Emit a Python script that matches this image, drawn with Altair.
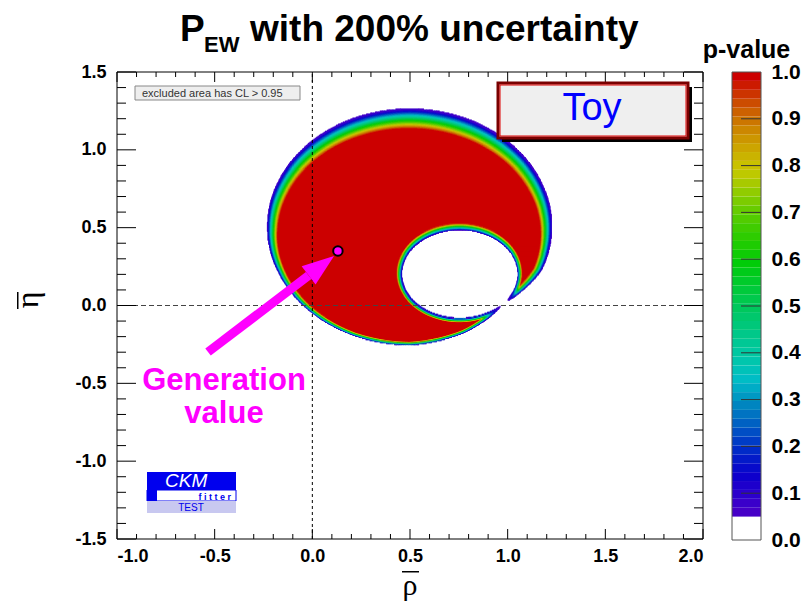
import numpy as np
import pandas as pd
import altair as alt

# ---------------- axes / labels ----------------
X_DOMAIN = [-1.0, 2.0]
Y_DOMAIN = [-1.5, 1.5]
x_label_values = [-1.0, -0.5, 0.0, 0.5, 1.0, 1.5, 2.0]
y_label_values = [-1.5, -1.0, -0.5, 0.0, 0.5, 1.0, 1.5]
cbar_label_values = [0.0, 0.1, 0.2, 0.3, 0.4, 0.5, 0.6, 0.7, 0.8, 0.9, 1.0]
cbar_tick_values = [0.1, 0.2, 0.3, 0.4, 0.5, 0.6, 0.7, 0.8, 0.9]
minor_step = 0.1
major_step = 0.5

# ---------------- p-value map geometry ----------------
angles_deg = [0, 22.5, 45, 67.5, 90, 112.5, 135, 157.5, 180, 202.5, 225, 247.5, 270, 292.5, 315, 337.5]
outer_center = [0.497, 0.502]
outer_edge_r = [0.728, 0.732, 0.743, 0.754, 0.759, 0.754, 0.743, 0.732, 0.728, 0.732, 0.743, 0.754, 0.759, 0.735, 0.690, 0.730]
outer_core_r = [0.670, 0.654, 0.643, 0.637, 0.636, 0.639, 0.646, 0.658, 0.674, 0.694, 0.714, 0.729, 0.734, 0.712, 0.665, 0.688]
hole_center = [0.754, 0.199]
hole_edge_r = [0.297, 0.295, 0.290, 0.285, 0.283, 0.285, 0.290, 0.295, 0.297, 0.295, 0.290, 0.285, 0.283, 0.285, 0.290, 0.295]
hole_core_r = [0.319, 0.3225, 0.325, 0.327, 0.328, 0.3285, 0.328, 0.326, 0.323, 0.3185, 0.314, 0.310, 0.308, 0.3085, 0.311, 0.315]
p_edge = 0.05
p_core = 0.98

gen_point = [0.131, 0.350]
arrow_tail = [-0.534, -0.299]
arrow_base = [-0.019, 0.193]
arrow_head_center = [0.046, 0.256]

# ---------------- colour palette ----------------
cl_min = 0.05
n_bands = 50
pal_p = [0.05, 0.10, 0.15, 0.20, 0.25, 0.30, 0.35, 0.40, 0.45, 0.50,
         0.55, 0.60, 0.65, 0.70, 0.75, 0.80, 0.85, 0.90, 0.95, 1.00]
pal_hex = ["#5200c4", "#3200cc", "#0a00cc", "#0028c8", "#0058c4", "#0088c0", "#00bcc8", "#00c8a8",
           "#00c888", "#00c862", "#00ca36", "#00cc08", "#26cc00", "#56cc00", "#8ecc00", "#c8c800",
           "#cca400", "#cc7c00", "#cc4400", "#cc0000"]

band_w = (1.0 - cl_min) / n_bands
band_lo = [cl_min + band_w * k for k in range(n_bands)]
band_hi = [cl_min + band_w * (k + 1) for k in range(n_bands)]
pal_rgb = np.array([[int(h[i:i + 2], 16) for i in (1, 3, 5)] for h in pal_hex], dtype=float)


def band_color(p):
    rgb = [np.interp(p, pal_p, pal_rgb[:, c]) for c in range(3)]
    return "#%02x%02x%02x" % tuple(int(round(v)) for v in rgb)


band_colors = [band_color(h) for h in band_hi]

# ---------------- build map cells ----------------
ang = np.radians(angles_deg)


def polar(X, Y, c):
    dx = X - c[0]
    dy = Y - c[1]
    return np.hypot(dx, dy), np.mod(np.arctan2(dy, dx), 2 * np.pi)


def rad(theta, rl):
    return np.interp(theta, ang, rl, period=2 * np.pi)


dxc = 0.0035
dyc = 0.0065
xs = np.arange(-0.32, 1.32, dxc) + dxc / 2
ys = np.arange(-0.32, 1.32, dyc) + dyc / 2
XX, YY = np.meshgrid(xs, ys)
ro, to = polar(XX, YY, outer_center)
Re, Rc = rad(to, outer_edge_r), rad(to, outer_core_r)
p_o = np.clip(p_edge + (p_core - p_edge) * (Re - ro) / (Re - Rc), 0, 1)
rh, th = polar(XX, YY, hole_center)
He, Hc = rad(th, hole_edge_r), rad(th, hole_core_r)
p_h = np.clip(p_edge + (p_core - p_edge) * (rh - He) / (Hc - He), 0, 1)
P = p_o * p_h
K = np.where(P >= cl_min, np.clip(((P - cl_min) / band_w).astype(int), 0, n_bands - 1), -1)

cells = []
for i, yc in enumerate(ys):
    kr = K[i]
    ch = np.flatnonzero(np.diff(kr)) + 1
    st = np.concatenate([[0], ch])
    en = np.concatenate([ch, [len(kr)]])
    for s, e in zip(st, en):
        k = kr[s]
        if k < 0:
            continue
        cells.append((round(xs[s] - dxc / 2, 5), round(xs[e - 1] + dxc / 2 + 0.0025, 5),
                      round(yc - dyc / 2, 5), round(yc + dyc * 1.5, 5), band_colors[k]))
heat = pd.DataFrame(cells, columns=["x", "x2", "y", "y2", "c"])

# ---------------- encodings ----------------
W, H = 586, 467
xsc = alt.Scale(domain=X_DOMAIN, nice=False, zero=False)
ysc = alt.Scale(domain=Y_DOMAIN, nice=False, zero=False)
hyphen_labels = "replace(format(datum.value, '.1f'), '\u2212', '-')"
x_axis = alt.Axis(values=x_label_values, labelExpr=hyphen_labels, labelFont="Liberation Sans", labelFontSize=18,
                  labelFontWeight="bold", labelColor="black", ticks=False, tickSize=0, domain=False,
                  grid=False, labelPadding=8, title=None, zindex=2)
y_axis = alt.Axis(values=y_label_values, labelExpr=hyphen_labels, labelFont="Liberation Sans", labelFontSize=18,
                  labelFontWeight="bold", labelColor="black", ticks=False, tickSize=0, domain=False,
                  grid=False, labelPadding=11, title=None, zindex=2)


def X(f):
    return alt.X(f, type="quantitative", scale=xsc, axis=x_axis)


def Y(f):
    return alt.Y(f, type="quantitative", scale=ysc, axis=y_axis)


one = pd.DataFrame({"a": [0]})


def txt(text, x, y, size, color="black", weight="normal", font="Liberation Sans", align="left",
        angle=0, style="normal"):
    return alt.Chart(one).mark_text(text=text, align=align, baseline="alphabetic", font=font,
                                    fontSize=size, fontWeight=weight, color=color, angle=angle,
                                    fontStyle=style).encode(x=alt.value(x), y=alt.value(y))


def box(x0, x1, y0, y1, fill=None, stroke=None, sw=1.0):
    kw = {}
    if fill is not None:
        kw["fill"] = fill
    else:
        kw["filled"] = False
    if stroke is not None:
        kw["stroke"] = stroke
        kw["strokeWidth"] = sw
    else:
        kw["strokeWidth"] = 0
    return alt.Chart(one).mark_rect(**kw).encode(x=alt.value(x0), x2=alt.value(x1),
                                                   y=alt.value(y0), y2=alt.value(y1))


bg = box(-117, 812 - 117, -72, 603 - 72, fill="white")

heat_layer = alt.Chart(heat).mark_rect(strokeWidth=0).encode(
    x=X("x"), x2=alt.X2("x2"), y=Y("y"), y2=alt.Y2("y2"), color=alt.Color("c:N", scale=None))

# dashed zero lines
zx = pd.DataFrame({"x": [0.0], "y0": [Y_DOMAIN[0]], "y1": [Y_DOMAIN[1]]})
zy = pd.DataFrame({"y": [0.0], "x0": [X_DOMAIN[0]], "x1": [X_DOMAIN[1]]})
dash_v = alt.Chart(zx).mark_rule(color="black", strokeWidth=1, strokeDash=[3, 3]).encode(
    x=X("x"), y=Y("y0"), y2=alt.Y2("y1"))
dash_h = alt.Chart(zy).mark_rule(color="#444444", strokeWidth=1, strokeDash=[5, 3]).encode(
    y=Y("y"), x=X("x0"), x2=alt.X2("x1"))

# inner ticks
px_x = (X_DOMAIN[1] - X_DOMAIN[0]) / W
px_y = (Y_DOMAIN[1] - Y_DOMAIN[0]) / H
xt = []
for v in np.round(np.arange(X_DOMAIN[0], X_DOMAIN[1] + 1e-9, minor_step), 3):
    L = (10 if abs(v / major_step - round(v / major_step)) < 1e-6 else 5) * px_y
    xt.append((v, v, Y_DOMAIN[0], Y_DOMAIN[0] + L))
    xt.append((v, v, Y_DOMAIN[1], Y_DOMAIN[1] - L))
for v in np.round(np.arange(Y_DOMAIN[0], Y_DOMAIN[1] + 1e-9, minor_step), 3):
    L = (19 if abs(v / major_step - round(v / major_step)) < 1e-6 else 9) * px_x
    xt.append((X_DOMAIN[0], X_DOMAIN[0] + L, v, v))
    xt.append((X_DOMAIN[1], X_DOMAIN[1] - L, v, v))
ticks = pd.DataFrame(xt, columns=["x", "x2", "y", "y2"])
tick_layer = alt.Chart(ticks).mark_rule(color="black", strokeWidth=1).encode(
    x=X("x"), x2=alt.X2("x2"), y=Y("y"), y2=alt.Y2("y2"))

frame = box(0, W, 0, H, stroke="black", sw=1)

# arrow + generation point
shaft = alt.Chart(pd.DataFrame({"x0": [arrow_tail[0]], "y0": [arrow_tail[1]],
                                "x1": [arrow_base[0]], "y1": [arrow_base[1]]})).mark_rule(
    color="#ff00ff", strokeWidth=9).encode(x=X("x0"), y=Y("y0"), x2=alt.X2("x1"), y2=alt.Y2("y1"))
head = alt.Chart(pd.DataFrame({"x": [arrow_head_center[0]], "y": [arrow_head_center[1]]})).mark_point(
    shape="M0,-1L0.72,1L-0.72,1Z", filled=True, color="#ff00ff", size=1024, angle=52.7, opacity=1,
    strokeWidth=0).encode(x=X("x"), y=Y("y"))
gen = alt.Chart(pd.DataFrame({"x": [gen_point[0]], "y": [gen_point[1]]})).mark_point(
    shape="circle", filled=True, fill="#ff00ff", stroke="black", strokeWidth=2, size=90,
    opacity=1).encode(x=X("x"), y=Y("y"))

# annotations (pixel positions relative to plot area)
title_p = txt("P", 63, -31, 37, weight="bold")
title_ew = txt("EW", 87, -20, 22, weight="bold")
title_rest = txt("with 200% uncertainty", 133, -31, 37, weight="bold")
xtitle = txt("\u03c1", 293, 523, 30, font="Liberation Serif", align="center")
xbar = box(285, 302, 499, 500.5, fill="black")
ytitle = txt("\u03b7", -79, 228, 32, font="Liberation Serif", align="center", angle=270)
ybar = box(-100, -98.5, 220, 237, fill="black")

excl_box = box(18, 183, 14, 28, fill="#eeeeee", stroke="#888888", sw=1)
excl_txt = txt("excluded area has CL > 0.95", 25, 25, 11, color="#333333")

toy_shadow = box(385, 575, 15, 70, fill="black")
toy_box = box(381, 571, 11, 66, fill="#efefef", stroke="#7a0000", sw=3)
toy_inner = box(383, 569, 13, 64, stroke="#dd0000", sw=1)
toy_txt = txt("Toy", 475, 48, 38, color="#0000ff", align="center")

gen_txt1 = txt("Generation", 107, 318, 31, color="#ff00ff", weight="bold", align="center")
gen_txt2 = txt("value", 107, 351, 31, color="#ff00ff", weight="bold", align="center")

logo_blue = box(30, 119, 400, 418, fill="#0000ee")
logo_white = box(30, 119, 418, 429, fill="white", stroke="#0000ee", sw=1)
logo_blue2 = box(30, 40, 418, 429, fill="#0000ee")
logo_test = box(30, 119, 429, 441, fill="#c8c8f0")
logo_ckm = txt("CKM", 48, 415, 19, color="white", style="italic")
logo_fit = txt("f i t t e r", 114, 427.5, 9, color="#0000ee", weight="bold", align="right")
logo_tst = txt("TEST", 74, 439, 10, color="#0000ee", align="center")

main = alt.layer(
    bg, heat_layer, dash_v, dash_h, tick_layer, frame,
    excl_box, excl_txt, toy_shadow, toy_box, toy_inner, toy_txt,
    shaft, head, gen, gen_txt1, gen_txt2,
    logo_blue, logo_white, logo_blue2, logo_test, logo_ckm, logo_fit, logo_tst,
    title_p, title_ew, title_rest, xtitle, xbar, ytitle, ybar,
).properties(width=W, height=H)

# ---------------- colour bar ----------------
CB_W, CB_H = 29, 468
cb = pd.DataFrame({"lo": [0.0] + band_lo, "hi": [cl_min] + band_hi, "c": ["#ffffff"] + band_colors})
cb_scale = alt.Scale(domain=[0, 1], nice=False, zero=False)
cb_axis = alt.Axis(orient="right", values=cbar_label_values, format=".1f", labelFont="Liberation Sans",
                   labelFontSize=21, labelFontWeight="bold", labelColor="black", ticks=False, tickSize=0,
                   domain=False, grid=False, labelPadding=10, title=None, zindex=2)
cb_rect = alt.Chart(cb).mark_rect(strokeWidth=0).encode(
    x=alt.value(0), x2=alt.value(CB_W),
    y=alt.Y("lo:Q", scale=cb_scale, axis=cb_axis), y2=alt.Y2("hi:Q"),
    color=alt.Color("c:N", scale=None))
cb_ticks = alt.Chart(pd.DataFrame({"v": cbar_tick_values})).mark_rule(color="#333333", strokeWidth=1).encode(
    x=alt.value(9), x2=alt.value(CB_W), y=alt.Y("v:Q", scale=cb_scale, axis=cb_axis))
cb_frame = box(0, CB_W, 0, CB_H, stroke="#555555", sw=1)
cb_title = txt("p-value", 14.5, -14, 25, weight="bold", align="center")
cbar = alt.layer(cb_rect, cb_ticks, cb_frame, cb_title).properties(width=CB_W, height=CB_H)

chart = alt.hconcat(main, cbar, spacing=29, bounds="flush").properties(
    padding=0, background="white"
).configure_view(stroke=None)

chart.save("out.html", embed_options={"renderer": "svg", "actions": False})
